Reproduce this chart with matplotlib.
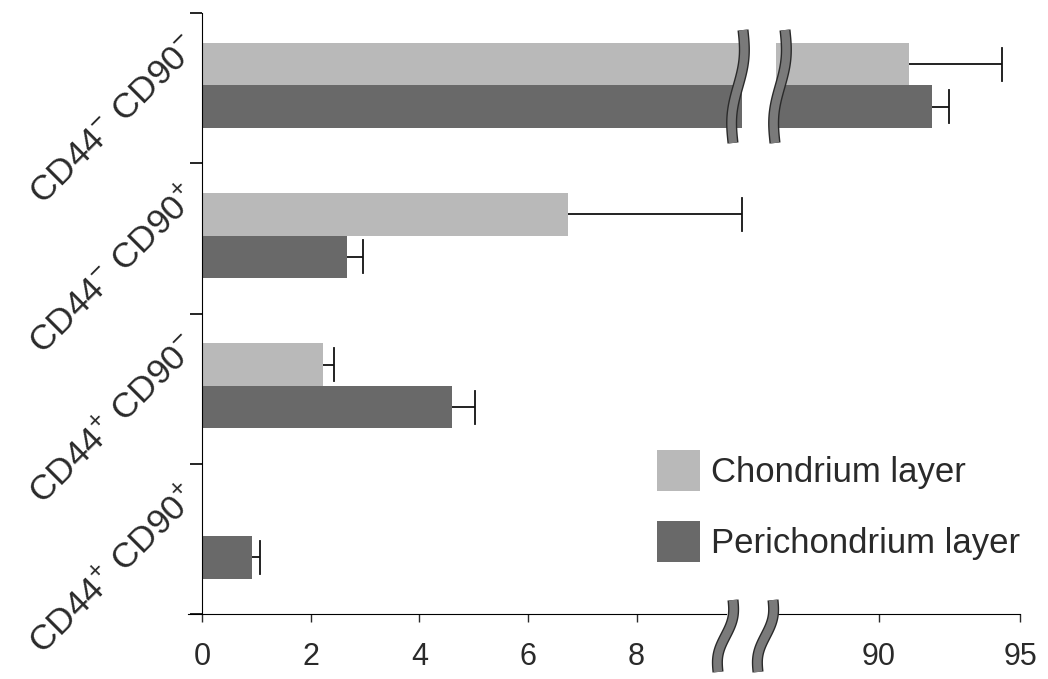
import numpy as np
import matplotlib
matplotlib.use("Agg")
import matplotlib.pyplot as plt
from matplotlib.patches import Patch
import matplotlib.patheffects as pe

plt.rcParams['font.family'] = ['Liberation Sans', 'DejaVu Sans']
plt.rcParams['mathtext.fontset'] = 'custom'
plt.rcParams['mathtext.rm'] = 'Liberation Sans'
plt.rcParams['mathtext.it'] = 'Liberation Sans'

categories = [r'CD44$^{-}$ CD90$^{-}$', r'CD44$^{-}$ CD90$^{+}$',
              r'CD44$^{+}$ CD90$^{-}$', r'CD44$^{+}$ CD90$^{+}$']
series_names = ['Chondrium layer', 'Perichondrium layer']
chondrium = [91.06, 6.74, 2.22, 0.0]
chondrium_err = [3.30, 3.20, 0.21, 0.0]
perichondrium = [91.88, 2.67, 4.60, 0.92]
perichondrium_err = [0.60, 0.30, 0.43, 0.15]
left_ticks = [0, 2, 4, 6, 8]
right_ticks = [90, 95]

c_col = '#b9b9b9'
p_col = '#696969'
txt_col = '#2a2a2a'

W, H = 1048, 679
fig = plt.figure(figsize=(W / 100, H / 100), dpi=100)

def fx(px):
    return px / W

def fy(py):
    return 1 - py / H

axL = fig.add_axes([fx(202), fy(614), fx(742) - fx(202), fy(13) - fy(614)])
axR = fig.add_axes([fx(776), fy(614), fx(1020) - fx(776), fy(13) - fy(614)])

ypos = np.arange(len(categories))
h = 0.283
off_c = -0.16
off_p = 0.123

for ax in (axL, axR):
    ax.barh(ypos + off_c, chondrium, height=h, color=c_col, edgecolor='none')
    ax.barh(ypos + off_p, perichondrium, height=h, color=p_col, edgecolor='none')
    ax.set_ylim(3.5, -0.5)
    ax.spines['top'].set_visible(False)
    ax.spines['right'].set_visible(False)
    ax.tick_params(axis='x', direction='out', length=6, width=1, pad=14,
                   labelsize=22, colors=txt_col)

# error bars
for i in range(len(categories)):
    for val, err, off in ((chondrium[i], chondrium_err[i], off_c),
                          (perichondrium[i], perichondrium_err[i], off_p)):
        if err <= 0:
            continue
        ax = axL if val < 20 else axR
        ax.errorbar(val + err / 2, i + off, xerr=err / 2, fmt='none',
                    ecolor='#111111', elinewidth=1.3, capsize=0, clip_on=False)
        ax.plot([val + err, val + err], [i + off - 0.11, i + off + 0.11],
                color='#111111', lw=1.3, clip_on=False)

axL.set_xlim(0, 9.94)
axR.set_xlim(86.35, 95)
axL.set_xticks(left_ticks)
axL.set_xticklabels([str(t) for t in left_ticks])
axR.set_xticks(right_ticks)
axR.set_xticklabels([str(t) for t in right_ticks])
axL.spines['bottom'].set_bounds(-0.25, 9.65)

axL.set_yticks([-0.5, 0.5, 1.5, 2.5, 3.5])
axL.set_yticklabels([])
axL.tick_params(axis='y', direction='out', length=9, width=1.2)
axR.spines['left'].set_visible(False)
axR.set_yticks([])

for i, lab in enumerate(categories):
    axL.text(-0.016, i - 0.31, lab, transform=axL.get_yaxis_transform(),
             rotation=45, rotation_mode='anchor', ha='right', va='center',
             fontsize=25.5, color=txt_col)

# break marks
def wavy(x_top, x_bot, y_top, y_bot):
    t = np.linspace(0, 1, 60)
    xs = x_top + (x_bot - x_top) * t + 3.5 * np.sin(2 * np.pi * t)
    ys = y_top + (y_bot - y_top) * t
    return fx(xs), fy(ys)

for (xt, xb, yt, yb) in [(743, 733, 30, 143), (785, 775, 30, 143),
                         (733, 718, 600, 672), (773, 758, 600, 672)]:
    xs, ys = wavy(xt, xb, yt, yb)
    fig.add_artist(plt.Line2D(xs, ys, color='#7a7a7a', lw=6, solid_capstyle='butt',
                              path_effects=[pe.Stroke(linewidth=8, foreground='#2a2a2a'),
                                            pe.Normal()]))

handles = [Patch(facecolor=c_col, edgecolor='none'),
           Patch(facecolor=p_col, edgecolor='none')]
fig.legend(handles, series_names, loc='upper left',
           bbox_to_anchor=(fx(657), fy(450)), frameon=False, fontsize=25,
           handlelength=1.25, handleheight=1.42, handletextpad=0.3,
           labelspacing=0.88, borderpad=0, borderaxespad=0, labelcolor=txt_col)

fig.savefig('out.png', dpi=100)
